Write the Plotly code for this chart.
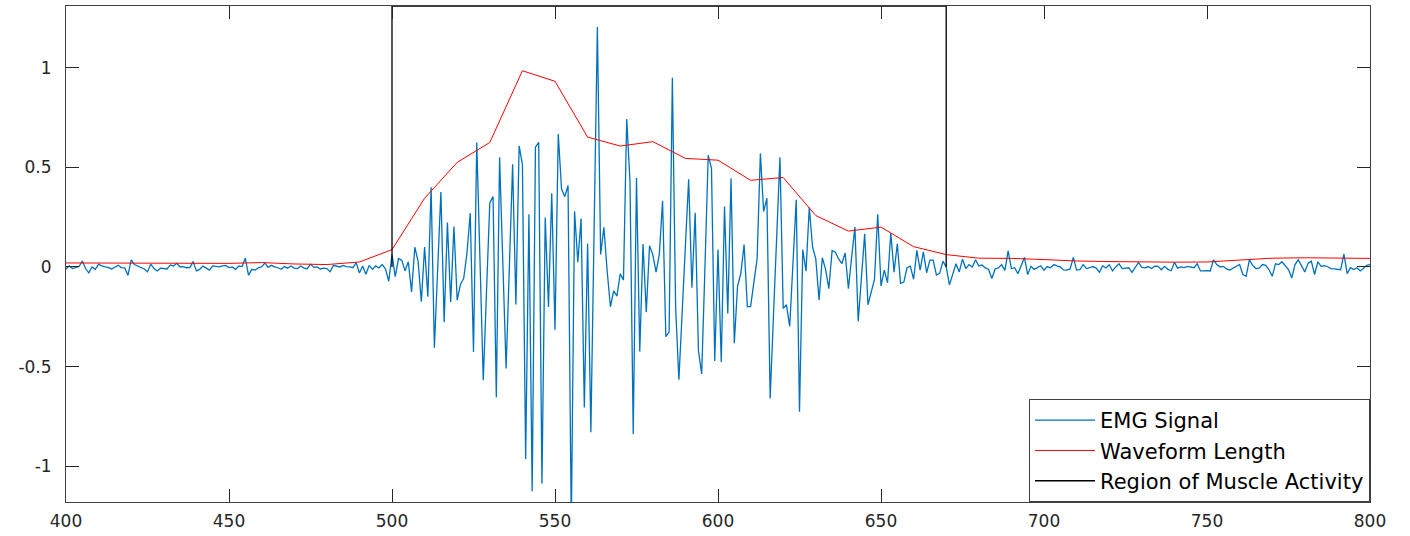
import numpy as np
import plotly.graph_objects as go

# EMG samples, one per index
emg_rest_before = [  # 400..499
    -0.01, 0.005, -0.008, -0.003, 0.002, 0.03, -0.008, -0.03, 0.0, -0.012,
    0.014, 0.005, 0.002, -0.004, -0.01, 0.001, 0.009, -0.003, -0.005, -0.042,
    0.036, 0.012, 0.005, -0.002, -0.01, -0.024, 0.014, -0.008, -0.02, -0.006,
    -0.008, -0.01, 0.01, 0.005, 0.018, 0.0, 0.002, -0.004, -0.003, 0.027,
    -0.02, -0.012, 0.004, -0.005, -0.016, 0.005, 0.002, 0.0, 0.005, 0.008,
    -0.003, 0.0, -0.012, 0.005, 0.002, 0.044, -0.042, -0.012, -0.016, -0.004,
    0.0, 0.02, -0.002, 0.008, 0.0, -0.004, -0.012, 0.002, -0.006, 0.005,
    -0.006, -0.008, 0.005, -0.006, -0.009, 0.014, -0.002, 0.0, -0.01, -0.006,
    -0.008, -0.024, 0.008, 0.005, 0.0, 0.008, 0.002, 0.0, -0.004, 0.022,
    -0.03, 0.005, -0.037, 0.008, -0.012, 0.005, -0.005, 0.012, -0.01, -0.072,
]
emg_active = [  # 500..676
    0.062, -0.049, 0.042, 0.034, -0.02, 0.026, -0.125, 0.099, 0.029, -0.174,
    0.10, -0.15, 0.40, -0.405, -0.01, 0.376, -0.278, 0.223, -0.176, 0.203,
    -0.167, -0.088, -0.057, 0.07, 0.27, -0.427, 0.625, 0.02, -0.569, -0.12,
    0.321, 0.353, -0.654, 0.55, -0.02, -0.51, 0.0, 0.515, -0.188, 0.608,
    0.515, -0.964, 0.265, -1.126, 0.601, 0.625, -1.088, 0.248, -0.201, 0.37,
    -0.315, 0.667, 0.392, 0.353, 0.409, -1.3, 0.279, 0.024, 0.243, -0.706,
    0.118, -0.83, 0.19, 1.205, 0.063, 0.199, -0.02, -0.2, -0.12, -0.146,
    -0.034, -0.066, 0.742, 0.43, -0.838, 0.447, -0.425, 0.115, -0.227, 0.106,
    0.062, -0.026, 0.063, 0.332, -0.35, -0.327, 0.95, -0.2, -0.566, -0.23,
    0.10, 0.44, -0.104, 0.272, -0.42, -0.537, 0.0, 0.561, 0.495, -0.472,
    0.087, -0.477, 0.303, -0.234, 0.445, -0.383, -0.096, -0.033, 0.112, -0.199,
    -0.199, -0.08, 0.042, 0.57, 0.278, 0.345, -0.66, -0.25, 0.15, 0.55,
    -0.208, -0.19, -0.298, 0.02, 0.337, -0.727, 0.087, -0.021, 0.3, 0.1,
    0.04, -0.167, 0.046, -0.012, -0.109, 0.082, 0.074, 0.04, 0.017, 0.07,
    -0.109, 0.05, 0.2, -0.273, -0.05, 0.167, -0.19, -0.13, -0.062, 0.265,
    -0.096, -0.016, -0.079, 0.17, -0.026, 0.116, -0.082, -0.076, -0.004, 0.004,
    -0.062, 0.083, -0.016, 0.076, -0.029, 0.034, 0.034, -0.041, -0.032, 0.029,
    0.0, -0.09, -0.032, 0.016, -0.025, 0.039, -0.008,
]
emg_rest_after = [  # 677..800
    0.012, 0.0, 0.036,
    0.005, 0.01, -0.005, -0.013, -0.058, -0.01, -0.005, 0.012, -0.017, 0.081,
    -0.008, -0.004, -0.034, 0.005, 0.048, -0.038, 0.003, -0.012, -0.002, 0.006,
    -0.016, 0.002, -0.004, 0.012, 0.005, 0.0, -0.015, -0.016, -0.01, 0.048,
    -0.016, -0.014, 0.012, -0.008, -0.004, 0.002, -0.006, -0.027, 0.006, -0.005,
    0.011, -0.02, 0.0, 0.016, -0.008, -0.006, -0.004, -0.027, 0.0, 0.023,
    -0.002, -0.005, 0.002, -0.008, 0.004, 0.003, -0.014, 0.003, -0.012, -0.019,
    0.023, -0.006, 0.0, -0.003, 0.003, -0.002, -0.004, 0.016, -0.02, -0.02,
    -0.018, -0.02, 0.036, 0.012, 0.0, 0.003, -0.01, -0.016, -0.006, 0.0,
    0.012, -0.038, -0.047, 0.036, 0.008, -0.008, -0.006, 0.012, 0.008, -0.013,
    -0.047, 0.016, 0.012, 0.026, 0.006, -0.013, -0.055, 0.012, 0.036, 0.006,
    -0.025, 0.018, 0.029, -0.038, 0.026, 0.003, 0.006, 0.001, -0.008, -0.01,
    -0.012, -0.014, 0.065, -0.034, -0.004, -0.013, -0.004, -0.02, -0.006, 0.008,
    0.012,
]
emg = emg_rest_before + emg_active + emg_rest_after
emg_x = np.arange(400, 400 + len(emg))

# waveform length, one value per 10-sample window
wl_x = list(range(400, 801, 10))
wl = [0.02, 0.02, 0.02, 0.018, 0.017, 0.018, 0.022, 0.015, 0.012, 0.025,
      0.087, 0.345, 0.525, 0.625, 0.985, 0.932, 0.652, 0.607, 0.629, 0.545,
      0.536, 0.435, 0.449, 0.258, 0.18, 0.20, 0.102, 0.062, 0.044, 0.043,
      0.037, 0.03, 0.027, 0.025, 0.024, 0.025, 0.034, 0.044, 0.046, 0.044,
      0.043]

# detected region of muscle activity
region_x = [500, 500, 670, 670]
region_y = [0, 1.31, 1.31, 0]

fig = go.Figure()
fig.add_trace(go.Scatter(x=emg_x, y=emg, mode='lines', name='EMG Signal',
                         line=dict(color='#0072BD', width=1.3)))
fig.add_trace(go.Scatter(x=wl_x, y=wl, mode='lines', name='Waveform Length',
                         line=dict(color='#FF0000', width=1)))
fig.add_trace(go.Scatter(x=region_x, y=region_y, mode='lines', name='Region of Muscle Activity',
                         line=dict(color='#000000', width=1.3)))

axis_style = dict(
    showline=True, linecolor='#404040', linewidth=1, mirror='ticks',
    ticks='inside', ticklen=13, tickcolor='#262626', tickwidth=1,
    showgrid=False, zeroline=False,
    tickfont=dict(family='DejaVu Sans', size=17, color='#262626'),
)

fig.update_layout(
    width=1410, height=536,
    plot_bgcolor='white', paper_bgcolor='white',
    margin=dict(l=66, r=40, t=5, b=31),
    xaxis=dict(range=[400, 800], tickvals=[400, 450, 500, 550, 600, 650, 700, 750, 800],
               ticklabelstandoff=4, **axis_style),
    yaxis=dict(range=[-1.18, 1.31], tickvals=[-1, -0.5, 0, 0.5, 1],
               ticktext=['-1', '-0.5', '0', '0.5', '1'],
               ticklabelstandoff=10, **axis_style),
    legend=dict(x=1, y=0, xanchor='right', yanchor='bottom',
                bgcolor='white', bordercolor='#404040', borderwidth=1,
                font=dict(family='DejaVu Sans', size=21, color='black'),
                tracegroupgap=0, itemwidth=60),
    showlegend=True,
)

# page margin off so the 1410x536 figure sits at the window origin
fig.write_html("out.html", config={'displayModeBar': False},
               post_script="document.body.style.margin='0';")
